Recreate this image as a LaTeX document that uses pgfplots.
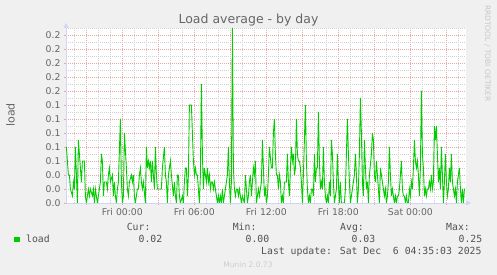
\documentclass[border=0pt]{standalone}
\usepackage{fontspec}
\setmainfont{DejaVu Sans}
\newfontfamily\monofont{DejaVu Sans Mono}
\usepackage{pgfplots}
\usepackage{pgfplotstable}
\pgfplotsset{compat=1.18}
\usetikzlibrary{arrows.meta}
\definecolor{bg}{HTML}{F0F0F0}
\definecolor{fontc}{HTML}{666666}
\definecolor{axisc}{HTML}{CFD6F8}
\definecolor{mgrid}{HTML}{E8A8A8}
\definecolor{ggrid}{HTML}{D0D0D0}
\definecolor{loadgreen}{HTML}{00CC00}
\definecolor{wmark}{HTML}{C8C8C8}
\definecolor{vers}{HTML}{CCCCCC}

% minutes relative to Fri 00:00, load average
\pgfplotstableread{
m load
-280 0.08
-270 0.04
-265 0.04
-260 0.02
-250 0.01
-245 0.03
-240 0.02
-235 0.08
-230 0.04
-225 0.00
-220 0.09
-210 0.05
-205 0.03
-200 0.06
-190 0.06
-185 0.01
-180 0.00
-175 0.01
-170 0.02
-165 0.01
-160 0.02
-150 0.01
-145 0.02
-140 0.00
-135 0.02
-130 0.01
-125 0.00
-120 0.01
-110 0.03
-105 0.07
-100 0.06
-95 0.01
-90 0.03
-80 0.03
-75 0.02
-70 0.04
-65 0.05
-60 0.03
-50 0.04
-45 0.01
-40 0.03
-35 0.01
-30 0.00
-25 0.02
-20 0.03
-10 0.12
-5 0.03
0 0.00
5 0.01
10 0.10
20 0.05
25 0.02
30 0.01
35 0.03
45 0.04
50 0.03
55 0.04
60 0.01
65 0.00
70 0.01
75 0.02
80 0.02
85 0.04
90 0.05
95 0.03
100 0.02
105 0.03
115 0.00
120 0.08
125 0.05
130 0.06
135 0.05
140 0.06
145 0.03
150 0.06
160 0.02
165 0.08
170 0.04
175 0.02
180 0.02
190 0.02
195 0.02
200 0.05
210 0.08
215 0.04
220 0.03
225 0.00
230 0.04
240 0.06
245 0.04
255 0.01
260 0.03
265 0.01
270 0.00
275 0.04
280 0.04
285 0.01
290 0.00
300 0.01
305 0.00
310 0.03
315 0.05
320 0.05
325 0.01
330 0.04
335 0.14
345 0.14
350 0.10
355 0.06
360 0.04
365 0.05
370 0.04
375 0.04
380 0.02
385 0.00
390 0.04
395 0.17
400 0.07
405 0.02
410 0.05
420 0.03
425 0.05
430 0.03
435 0.04
440 0.02
445 0.03
450 0.03
455 0.02
460 0.03
465 0.02
470 0.01
475 0.00
480 0.01
485 0.00
490 0.01
495 0.00
500 0.02
505 0.00
510 0.01
515 0.02
525 0.04
530 0.08
535 0.03
540 0.00
545 0.03
550 0.25
555 0.05
560 0.02
565 0.01
570 0.02
575 0.02
580 0.01
585 0.02
590 0.01
595 0.00
600 0.01
610 0.00
615 0.04
620 0.02
625 0.00
630 0.01
635 0.03
640 0.04
645 0.01
650 0.03
655 0.05
660 0.04
665 0.06
670 0.00
680 0.02
685 0.01
690 0.02
695 0.03
700 0.09
705 0.05
710 0.01
715 0.02
720 0.00
725 0.01
730 0.04
735 0.08
745 0.05
750 0.05
755 0.10
760 0.12
765 0.07
770 0.04
775 0.04
780 0.02
785 0.04
790 0.03
795 0.00
800 0.01
805 0.00
810 0.03
815 0.03
820 0.03
825 0.07
830 0.03
835 0.01
840 0.05
845 0.08
850 0.06
855 0.07
860 0.04
865 0.05
870 0.12
875 0.07
880 0.06
885 0.06
890 0.05
895 0.03
900 0.00
905 0.04
915 0.14
920 0.06
925 0.02
930 0.00
935 0.01
940 0.00
945 0.02
950 0.02
955 0.01
960 0.07
965 0.03
970 0.05
975 0.05
980 0.13
985 0.06
990 0.02
995 0.03
1000 0.02
1005 0.08
1010 0.03
1015 0.01
1020 0.00
1025 0.01
1030 0.00
1035 0.03
1040 0.01
1045 0.09
1050 0.07
1055 0.03
1060 0.00
1065 0.01
1070 0.02
1075 0.07
1080 0.03
1085 0.00
1090 0.03
1095 0.00
1100 0.00
1105 0.00
1110 0.00
1115 0.02
1120 0.07
1125 0.12
1130 0.07
1135 0.03
1140 0.00
1145 0.01
1150 0.02
1155 0.03
1160 0.04
1165 0.07
1170 0.04
1175 0.00
1180 0.02
1185 0.07
1190 0.15
1195 0.10
1200 0.03
1205 0.01
1210 0.09
1215 0.05
1220 0.02
1225 0.03
1230 0.00
1235 0.04
1245 0.07
1250 0.10
1255 0.09
1260 0.04
1265 0.03
1270 0.06
1275 0.04
1280 0.02
1285 0.00
1290 0.05
1295 0.04
1300 0.03
1305 0.02
1310 0.01
1315 0.02
1320 0.00
1325 0.01
1330 0.03
1335 0.08
1340 0.04
1345 0.01
1350 0.02
1355 0.01
1360 0.00
1365 0.01
1370 0.00
1375 0.01
1380 0.01
1385 0.02
1390 0.04
1395 0.06
1400 0.02
1405 0.01
1410 0.01
1415 0.00
1420 0.01
1425 0.00
1430 0.00
1435 0.02
1440 0.01
1445 0.03
1450 0.02
1455 0.05
1460 0.09
1465 0.06
1470 0.05
1475 0.06
1480 0.04
1485 0.01
1490 0.05
1495 0.16
1500 0.07
1505 0.05
1510 0.01
1515 0.02
1520 0.01
1525 0.02
1530 0.02
1535 0.03
1540 0.02
1545 0.04
1550 0.02
1555 0.03
1560 0.11
1565 0.09
1570 0.11
1575 0.07
1580 0.03
1585 0.05
1590 0.02
1595 0.08
1600 0.04
1605 0.00
1610 0.03
1615 0.07
1620 0.03
1625 0.01
1630 0.02
1635 0.05
1640 0.03
1645 0.07
1650 0.03
1655 0.02
1660 0.01
1665 0.02
1670 0.00
1675 0.03
1680 0.04
1685 0.05
1690 0.02
1695 0.00
1700 0.02
1705 0.00
1710 0.02
1715 0.02
}\loaddata

\begin{document}
\begin{tikzpicture}
\useasboundingbox (0pt,0pt) rectangle (497pt,275pt);
\fill[bg] (0pt,0pt) rectangle (497pt,275pt);
\begin{axis}[
  at={(66pt,72pt)}, anchor=south west,
  scale only axis, width=400pt, height=175pt,
  xmin=-282, xmax=1718, ymin=0, ymax=0.25,
  axis lines=left,
  axis line style={draw=axisc, line width=0.8pt, -{Triangle[length=5pt,width=5pt]}, shorten >=-5pt},
  axis background/.style={fill=white},
  xtick={-180,0,180,360,540,720,900,1080,1260,1440,1620},
  xticklabels={,Fri 00:00,,Fri 06:00,,Fri 12:00,,Fri 18:00,,Sat 00:00,},
  minor xtick={-240,-120,-60,60,120,240,300,420,480,600,660,780,840,960,1020,1140,1200,1320,1380,1500,1560,1680},
  ytick={0,0.02,0.04,0.06,0.08,0.1,0.12,0.14,0.16,0.18,0.2,0.22,0.24},
  yticklabels={0.0,0.0,0.0,0.1,0.1,0.1,0.1,0.1,0.2,0.2,0.2,0.2,0.2},
  minor ytick={0.01,0.03,0.05,0.07,0.09,0.11,0.13,0.15,0.17,0.19,0.21,0.23,0.25},
  grid=both,
  major grid style={draw=mgrid, dash pattern=on 1pt off 1pt, line width=0.6pt},
  minor grid style={draw=ggrid, dash pattern=on 1pt off 1pt, line width=0.6pt},
  tick align=outside, major tick length=2pt, minor tick length=0pt,
  major tick style={draw=mgrid},
  tick label style={font=\fontsize{9.3}{10}\selectfont, text=fontc},
  /pgf/number format/assume math mode=true,
]
\addplot[draw=loadgreen, line width=0.9pt, no markers] table[x=m,y=load]{\loaddata};
\end{axis}
\node[font=\fontsize{12.5}{14}\selectfont, text=fontc, anchor=base] at (248.5pt,251.5pt) {Load average - by day};
\node[rotate=90, font=\fontsize{11}{12}\selectfont, text=fontc] at (10.5pt,160pt) {load};
\node[rotate=-90, font=\fontsize{7.5}{8}\selectfont, text=wmark] at (487.5pt,221.5pt) {RRDTOOL / TOBI OETIKER};
\fill[loadgreen] (14pt,32.5pt) rectangle (19.5pt,38pt);
\begin{scope}[every node/.style={font=\monofont\fontsize{9.8}{10}\selectfont, text=fontc!80!black, anchor=base west, inner sep=0pt}]
\node at (26pt,32.7pt) {load};
\node at (126.6pt,44.3pt) {Cur:};
\node at (138.4pt,32.7pt) {0.02};
\node at (232.6pt,44.3pt) {Min:};
\node at (245.4pt,32.7pt) {0.00};
\node at (340pt,44.3pt) {Avg:};
\node at (351.4pt,32.7pt) {0.03};
\node at (446pt,44.3pt) {Max:};
\node at (458.4pt,32.7pt) {0.25};
\node at (261pt,20.7pt) {Last update: Sat Dec\ \ 6 04:35:03 2025};
\end{scope}
\node[font=\fontsize{7.5}{8}\selectfont, text=vers, anchor=base] at (248pt,7.7pt) {Munin 2.0.73};
\end{tikzpicture}
\end{document}
